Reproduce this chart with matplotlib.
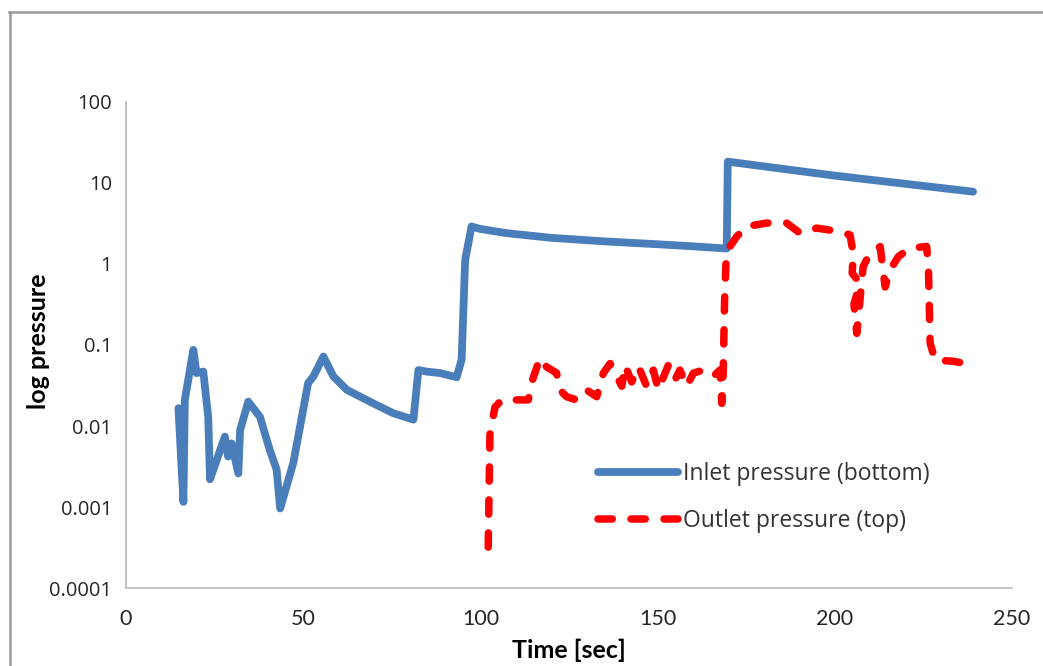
import numpy as np
import matplotlib
matplotlib.use('Agg')
import matplotlib.pyplot as plt
from matplotlib.lines import Line2D
from matplotlib.ticker import NullLocator

# --- Data ---
inlet_t = [14.8, 16.2, 16.6, 19.0, 19.9, 21.8, 23.2, 23.7, 27.9, 28.8, 29.8,
           31.7, 32.2, 34.5, 37.8, 40.6, 42.5, 43.5, 47.2, 51.4, 52.9, 55.7,
           58.5, 62.3, 69.8, 75.4, 81.1, 82.5, 84.8, 88.6, 93.3, 94.7, 95.7,
           97.5, 100.0, 107.4, 120.0, 135.0, 150.0, 160.0, 169.5, 169.8,
           200.0, 239.0]
inlet_p = [0.0166, 0.00116, 0.021, 0.087, 0.045, 0.047, 0.013, 0.0022,
           0.0074, 0.0042, 0.0061, 0.0026, 0.0089, 0.020, 0.013, 0.005,
           0.0029, 0.00096, 0.0035, 0.034, 0.041, 0.072, 0.041, 0.028,
           0.019, 0.0144, 0.012, 0.049, 0.047, 0.045, 0.040, 0.066, 1.12,
           2.9, 2.7, 2.4, 2.1, 1.9, 1.75, 1.65, 1.55, 18.3, 12.3, 7.8]

outlet_t = [102.2, 102.7, 104.1, 106.0, 109.3, 113.5, 114.5, 116.8, 118.6,
            121.5, 122.4, 124.3, 127.1, 129.9, 132.8, 134.7, 136.6, 139.9,
            140.8, 142.7, 144.6, 146.9, 148.8, 150.2, 153.0, 154.9, 156.3,
            158.2, 160.1, 162.9, 165.7, 167.6, 168.1, 168.5, 168.9, 169.4,
            170.4, 172.3, 175.1, 180.8, 186.4, 190.2, 194.9, 201.5, 204.3,
            205.2, 204.9, 207.1, 205.4, 206.2, 208.0, 209.9, 212.8, 214.2,
            215.6, 217.9, 221.2, 225.9, 226.4, 226.9, 228.3, 233.4, 238.6]
outlet_p = [0.00032, 0.0081, 0.017, 0.021, 0.021, 0.021, 0.035, 0.069,
            0.054, 0.045, 0.028, 0.023, 0.021, 0.028, 0.023, 0.045, 0.059,
            0.031, 0.056, 0.035, 0.054, 0.031, 0.049, 0.028, 0.056, 0.037,
            0.049, 0.031, 0.045, 0.049, 0.041, 0.049, 0.019, 0.045, 0.36,
            1.35, 1.64, 2.17, 2.9, 3.2, 3.2, 2.4, 2.77, 2.5, 2.28, 1.35,
            0.77, 0.58, 0.32, 0.139, 0.93, 1.35, 1.64, 0.52, 0.84, 1.23,
            1.57, 1.64, 0.93, 0.105, 0.065, 0.063, 0.057]

y_ticks = [0.0001, 0.001, 0.01, 0.1, 1, 10, 100]
y_tick_labels = ['0.0001', '0.001', '0.01', '0.1', '1', '10', '100']
x_ticks = [0, 50, 100, 150, 200, 250]

BLUE = '#4A7EBB'
RED = '#FF0000'
GRAY = '#BFBFBF'
RED_DASH = (0, (1.9, 2.5))

fig = plt.figure(figsize=(10.43, 6.66), dpi=100)
ax = fig.add_axes([0.1208, 0.117, 0.8495, 0.730])

ax.plot(inlet_t, inlet_p, color=BLUE, linewidth=5.6,
        solid_joinstyle='round', solid_capstyle='round', zorder=3)
ax.plot(outlet_t, outlet_p, color=RED, linewidth=5.4,
        linestyle=RED_DASH, dash_capstyle='round',
        dash_joinstyle='round', zorder=3)

ax.set_yscale('log')
ax.set_ylim(0.0001, 100)
ax.set_xlim(0, 250)
ax.set_yticks(y_ticks)
ax.set_yticklabels(y_tick_labels)
ax.yaxis.set_minor_locator(NullLocator())
ax.set_xticks(x_ticks)

for s in ['top', 'right']:
    ax.spines[s].set_visible(False)
for s in ['left', 'bottom']:
    ax.spines[s].set_color(GRAY)
    ax.spines[s].set_linewidth(1.3)

ax.tick_params(axis='both', length=0, colors='#262626')
ax.tick_params(axis='x', pad=15, labelsize=15.5)
ax.tick_params(axis='y', pad=10, labelsize=14.5)
for lbl in ax.get_xticklabels():
    lbl.set_family('Lato')
for lbl in ax.get_yticklabels():
    lbl.set_family('Open Sans')

ax.set_xlabel('Time [sec]', fontsize=18, fontweight='bold', family='Lato')
ax.set_ylabel('log pressure', fontsize=18, fontweight='bold', family='Lato')
ax.xaxis.set_label_coords(0.5, -0.104)
ax.yaxis.set_label_coords(-0.086, 0.508)

# Legend
handles = [
    Line2D([], [], color=BLUE, linewidth=5.6, solid_capstyle='round'),
    Line2D([], [], color=RED, linewidth=5.4, linestyle=RED_DASH,
           dash_capstyle='round'),
]
leg = ax.legend(handles, ['Inlet pressure (bottom)', 'Outlet pressure (top)'],
                loc='center left', bbox_to_anchor=(0.533, 0.186),
                frameon=False, borderpad=0, borderaxespad=0,
                handlelength=3.5, handletextpad=0.2, labelspacing=1.0,
                prop={'family': 'Open Sans', 'size': 16.5})
for t in leg.get_texts():
    t.set_color('#333333')

# Outer frame lines (top and left)
fig.add_artist(Line2D([9 / 1043, 1.0], [1 - 12 / 666, 1 - 12 / 666],
                      transform=fig.transFigure, color='#999999',
                      linewidth=1.8))
fig.add_artist(Line2D([10 / 1043, 10 / 1043], [0.0, 1 - 12 / 666],
                      transform=fig.transFigure, color='#999999',
                      linewidth=1.8))

fig.savefig('out.png', dpi=100)
